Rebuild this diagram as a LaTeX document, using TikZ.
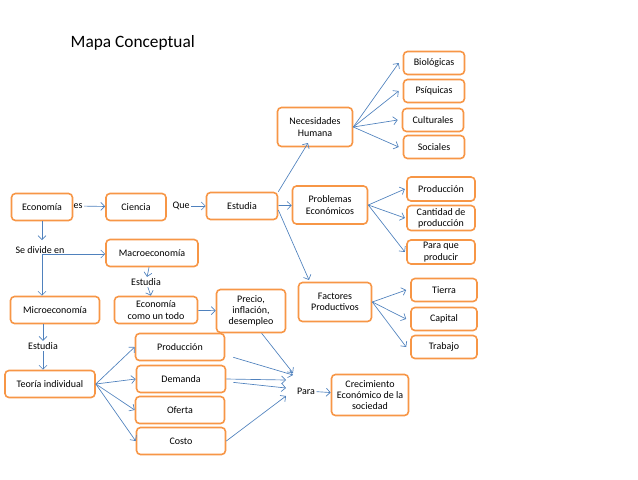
\documentclass[tikz,border=0pt]{standalone}
\usepackage{fontspec}
\setmainfont{Carlito}
\usetikzlibrary{arrows.meta}
\definecolor{boxor}{HTML}{F79646}
\definecolor{arrb}{HTML}{4F81BD}
\begin{document}
\begin{tikzpicture}[x=0.75pt,y=-0.75pt,
  box/.style={draw=boxor,line width=1.2pt,rounded corners=3pt,fill=white,align=center,inner sep=1pt,font=\fontsize{7.5}{8.5}\selectfont},
  lbl/.style={inner sep=1pt,font=\fontsize{7.5}{8.5}\selectfont},
  arr/.style={draw=arrb,line width=0.5pt,-{Straight Barb[length=3pt,width=6pt]}},
  ln/.style={draw=arrb,line width=0.5pt}]
\useasboundingbox (0,0) rectangle (638,479);
\node[anchor=west,font=\fontsize{13}{15}\selectfont] (title) at (66,43) {Mapa Conceptual};
\newcommand{\bx}[6]{\node[box,minimum width=#4*0.75pt,minimum height=#5*0.75pt] (#1) at (#2,#3) {#6};}
\bx{eco}{42}{207}{61}{27}{Economía}
\bx{cie}{136}{207}{60}{27}{Ciencia}
\bx{est}{242}{206}{71}{27}{Estudia}
\bx{nec}{315}{127}{75}{39}{Necesidades\\Humana}
\bx{pro}{330}{205}{75}{38}{Problemas\\Económicos}
\bx{fac}{335}{302}{73}{39}{Factores\\Productivos}
\bx{bio}{434}{63}{61}{23}{Biológicas}
\bx{psi}{434}{91}{61}{23}{Psíquicas}
\bx{cul}{433}{120}{61}{23}{Culturales}
\bx{soc}{434}{147}{61}{23}{Sociales}
\bx{prd}{441}{189}{68}{24}{Producción}
\bx{can}{441}{218}{68}{25}{Cantidad de\\producción}
\bx{pqp}{441}{252}{68}{24}{Para que\\producir}
\bx{tie}{444}{290}{66}{23}{Tierra}
\bx{cap}{444}{319}{66}{23}{Capital}
\bx{tra}{444}{347}{66}{23}{Trabajo}
\bx{mac}{152}{253}{92}{27}{Macroeconomía}
\bx{mic}{55}{310}{89}{27}{Microeconomía}
\bx{ect}{156}{310}{83}{27}{Economía\\como un todo}
\bx{pre}{251}{311}{69}{43}{Precio,\\inflación,\\desempleo}
\bx{teo}{50}{384}{90}{27}{Teoría individual}
\bx{lp}{180}{347}{89}{27}{Producción}
\bx{dem}{181}{379}{89}{27}{Demanda}
\bx{ofe}{180}{410}{89}{27}{Oferta}
\bx{cos}{181}{441}{89}{27}{Costo}
\bx{cre}{370}{395}{77}{41}{Crecimiento\\Económico de la\\sociedad}
\node[lbl] (es) at (78,206) {es};
\node[lbl] (que) at (181,206) {Que};
\node[lbl] (sde) at (40,250) {Se divide en};
\node[lbl] (est2) at (146,282) {Estudia};
\node[lbl] (est3) at (43,346) {Estudia};
\node[lbl] (para) at (306,391) {Para};
\coordinate (sdj) at (42,254);
\draw[arr] (es) -- (cie);
\draw[arr] (que) -- (est);
\draw[arr] (est.north east) -- (308,143);
\draw[arr] (est) -- (pro);
\draw[arr] ([yshift=-3pt]est.east) -- (309,280);
\draw[arr] (eco.south) -- (42,240);
\draw[arr] (sdj) -- (mic.north -| sdj);
\draw[arr] (sdj) -- (mac.west |- sdj);
\draw[arr] (mac) -- (est2);
\draw[arr] (est2) -- (ect);
\draw[arr] (ect) -- (pre);
\draw[arr] (mic.south -| est3) -- (est3);
\draw[arr] (est3) -- (teo.north -| est3);
\foreach \t in {lp,dem,ofe,cos} \draw[arr] (teo.east) -- (\t.west);
\coordinate (e1) at (293,375); \coordinate (e2) at (286,380);
\coordinate (e3) at (286,388); \coordinate (e4) at (286,396);
\coordinate (e5) at (293,373);
\draw[arr] ([xshift=6pt]lp.south east) ++(0,3pt) -- (e1);
\draw[arr] (dem.east) -- (e2);
\draw[arr] ([xshift=6pt,yshift=10pt]ofe.north east) -- (e3);
\draw[arr] (cos.east) -- (e4);
\draw[arr] ([xshift=8pt]pre.south) -- (e5);
\draw[arr] (para) -- (cre);
\foreach \t in {bio,psi,cul,soc} \draw[arr] (nec.east) -- ([xshift=-3pt]\t.west);
\foreach \t in {prd,can,pqp} \draw[arr] (pro.east) -- ([xshift=-1pt]\t.west);
\foreach \t in {tie,cap,tra} \draw[arr] (fac.east) -- ([xshift=-3pt]\t.west);
\end{tikzpicture}
\end{document}
